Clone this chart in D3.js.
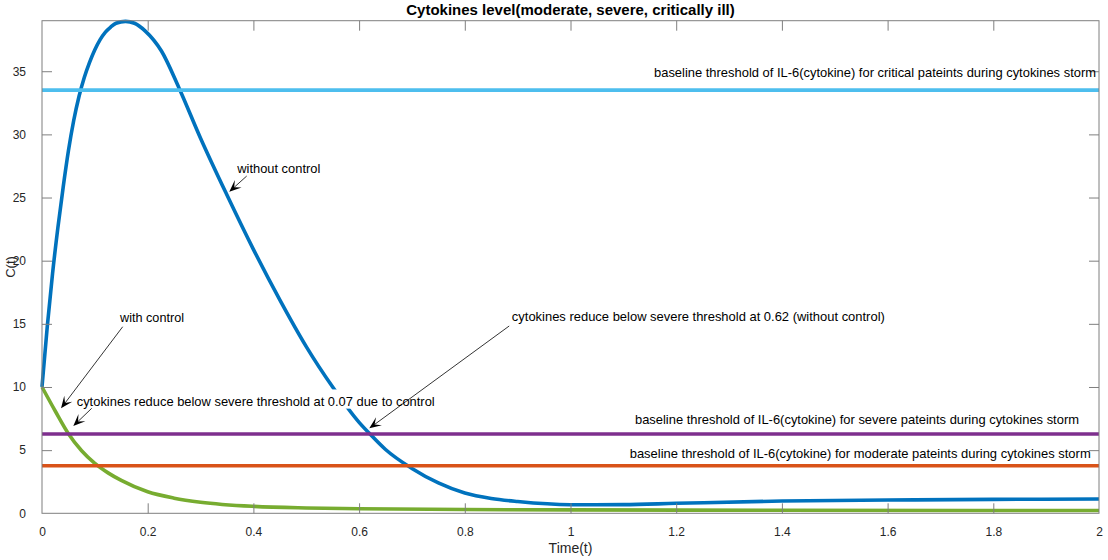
<!DOCTYPE html>
<html>
<head>
<meta charset="utf-8">
<script src="https://cdn.jsdelivr.net/npm/d3@7"></script>
<style>
  html, body { margin: 0; padding: 0; background: #fff; }
  svg { display: block; font-family: "Liberation Sans", Arial, sans-serif; }
</style>
</head>
<body>
<svg id="chart" width="1108" height="560"></svg>
<script>
// ---------- data ----------
const title = "Cytokines level(moderate, severe, critically ill)";
const xLabel = "Time(t)";
const yLabel = "C(t)";

const xTicks = [0, 0.2, 0.4, 0.6, 0.8, 1, 1.2, 1.4, 1.6, 1.8, 2];
const yTicks = [0, 5, 10, 15, 20, 25, 30, 35];

// without control (blue)
const tWithout = [0, 0.01, 0.02, 0.03, 0.04, 0.05, 0.06, 0.07, 0.08, 0.09, 0.10, 0.11, 0.12, 0.13, 0.14, 0.158, 0.175, 0.195, 0.226, 0.259, 0.30, 0.35, 0.40, 0.45, 0.50, 0.55, 0.60, 0.62, 0.65, 0.70, 0.75, 0.80, 0.85, 0.90, 1.0, 1.1, 1.2, 1.4, 1.6, 1.8, 2.0];
const cWithout = [10, 14.8, 19.0, 22.6, 25.8, 28.7, 31.1, 33.0, 34.5, 35.7, 36.7, 37.5, 38.1, 38.5, 38.8, 38.95, 38.8, 38.2, 36.6, 33.7, 29.7, 25.2, 20.9, 16.9, 13.2, 10.0, 7.2, 6.3, 5.05, 3.55, 2.4, 1.6, 1.17, 0.93, 0.68, 0.69, 0.79, 0.97, 1.05, 1.1, 1.13];

// with control (green)
const tWith = [0, 0.025, 0.05, 0.075, 0.1, 0.125, 0.15, 0.2, 0.25, 0.3, 0.4, 0.5, 0.6, 0.8, 1.0, 1.4, 2.0];
const cWith = [10, 8.1, 6.3, 4.95, 3.95, 3.2, 2.6, 1.7, 1.2, 0.88, 0.55, 0.42, 0.36, 0.3, 0.27, 0.24, 0.22];

// thresholds
const thresholdNames = ["critical", "severe", "moderate"];
const thresholdValues = [33.5, 6.28, 3.77];
const thresholdLabels = [
  "baseline threshold of IL-6(cytokine) for critical pateints during cytokines storm",
  "baseline threshold of IL-6(cytokine) for severe pateints during cytokines storm",
  "baseline threshold of IL-6(cytokine) for moderate pateints during cytokines storm"
];

// annotation texts
const annoTexts = [
  "without control",
  "with control",
  "cytokines reduce below severe threshold at 0.07 due to control",
  "cytokines reduce below severe threshold at 0.62 (without control)"
];

// ---------- layout / style ----------
const plot = { left: 42, right: 1099, top: 20.7, bottom: 513.3 };
const colors = {
  without: "#0072BD", with: "#77AC30",
  critical: "#4DBEEE", severe: "#7E2F8E", moderate: "#D95319"
};
const axisColor = "#7f7f7f";
const tickTextColor = "#262626";
const font = "'Liberation Sans', Arial, sans-serif";

// annotation placement (data coordinates) and text widths (px)
const annoPlace = [
  { tx: 0.3695, ty: 26.97, w: 83, from: [0.3873, 26.7], to: [0.3544, 25.46], box: false },
  { tx: 0.1476, ty: 15.17, w: 64, from: [0.1527, 14.77], to: [0.036, 8.31], box: false },
  { tx: 0.0657, ty: 8.50, w: 358, from: [0.094, 8.31], to: [0.0592, 6.91], box: true },
  { tx: 0.889, ty: 15.25, w: 373, from: [0.884, 14.83], to: [0.6193, 6.73], box: false }
];
const thrLabelPlace = [
  { tx: 1.158, ty: 34.52, w: 442, box: false },
  { tx: 1.122, ty: 7.05, w: 444, box: false },
  { tx: 1.112, ty: 4.40, w: 461, box: true }
];

const svg = d3.select("#chart");
const x = d3.scaleLinear().domain([0, 2]).range([plot.left, plot.right]);
const y = d3.scaleLinear().domain([0, 39]).range([plot.bottom, plot.top]);

const g = svg.append("g");

// curves
const line = d3.line().x(d => x(d[0])).y(d => y(d[1])).curve(d3.curveMonotoneX);
const blueData = tWithout.map((t, i) => [t, cWithout[i]]);
const greenData = tWith.map((t, i) => [t, cWith[i]]);

g.append("path").datum(blueData).attr("d", line)
  .attr("fill", "none").attr("stroke", colors.without).attr("stroke-width", 3.6)
  .attr("stroke-linejoin", "round");
g.append("path").datum(greenData).attr("d", line)
  .attr("fill", "none").attr("stroke", colors.with).attr("stroke-width", 3.6)
  .attr("stroke-linejoin", "round");

// thresholds
thresholdNames.forEach((name, i) => {
  g.append("line")
    .attr("x1", x(0)).attr("x2", x(2))
    .attr("y1", y(thresholdValues[i])).attr("y2", y(thresholdValues[i]))
    .attr("stroke", colors[name]).attr("stroke-width", 3.6);
});

// text boxes (white backgrounds of annotation text boxes)
const boxLayer = svg.append("g");

// axes box
const axG = svg.append("g");
axG.append("rect")
  .attr("x", plot.left).attr("y", plot.top)
  .attr("width", plot.right - plot.left).attr("height", plot.bottom - plot.top)
  .attr("fill", "none").attr("stroke", axisColor).attr("stroke-width", 1);

const tickLen = 10;
const xAxisB = d3.axisBottom(x).tickValues(xTicks).tickSizeInner(-tickLen).tickSizeOuter(0)
  .tickPadding(tickLen + 4).tickFormat(d3.format("~g"));
const xb = axG.append("g").attr("transform", `translate(0,${plot.bottom})`).call(xAxisB);
const xAxisT = d3.axisTop(x).tickValues(xTicks).tickSizeInner(-tickLen).tickSizeOuter(0).tickFormat("");
const xt = axG.append("g").attr("transform", `translate(0,${plot.top})`).call(xAxisT);
const yAxisL = d3.axisLeft(y).tickValues(yTicks).tickSizeInner(-tickLen).tickSizeOuter(0)
  .tickPadding(tickLen + 6).tickFormat(d3.format("~g"));
const yl = axG.append("g").attr("transform", `translate(${plot.left},0)`).call(yAxisL);
const yAxisR = d3.axisRight(y).tickValues(yTicks).tickSizeInner(-tickLen).tickSizeOuter(0).tickFormat("");
const yr = axG.append("g").attr("transform", `translate(${plot.right},0)`).call(yAxisR);

[xb, xt, yl, yr].forEach(a => {
  a.select(".domain").remove();
  a.selectAll(".tick line").attr("stroke", axisColor).attr("stroke-width", 1);
  a.selectAll(".tick text").attr("fill", tickTextColor)
    .style("font-family", font).style("font-size", "12px");
});
[xb, xt].forEach(a => a.selectAll(".tick").filter(d => d === 0 || d === 2).select("line").remove());
[yl, yr].forEach(a => a.selectAll(".tick").filter(d => d === 0).select("line").remove());

// title
svg.append("text").attr("x", (plot.left + plot.right) / 2).attr("y", 15)
  .attr("text-anchor", "middle").style("font-family", font)
  .style("font-size", "15px").style("font-weight", "bold").attr("fill", "#000")
  .text(title);

// axis labels
svg.append("text").attr("x", (plot.left + plot.right) / 2).attr("y", 553)
  .attr("text-anchor", "middle").style("font-family", font).style("font-size", "14px")
  .attr("fill", tickTextColor).text(xLabel);
svg.append("text")
  .attr("transform", `translate(15,${(plot.top + plot.bottom) / 2}) rotate(-90)`)
  .attr("text-anchor", "middle").style("font-family", font).style("font-size", "13px")
  .attr("fill", tickTextColor).text(yLabel);

function addText(txt, px, py, w, box) {
  if (box) {
    boxLayer.append("rect")
      .attr("x", px - 3).attr("y", py - 16.5).attr("width", w + 6).attr("height", 19.2)
      .attr("fill", "#fff");
  }
  svg.append("text").attr("x", px).attr("y", py)
    .style("font-family", font).style("font-size", "12.7px").attr("fill", "#000")
    .attr("textLength", w).attr("lengthAdjust", "spacingAndGlyphs")
    .text(txt);
}

// threshold labels
thresholdLabels.forEach((txt, i) => {
  const p = thrLabelPlace[i];
  addText(txt, x(p.tx), y(p.ty), p.w, p.box);
});

// annotations with arrows
function arrow(x1, y1, x2, y2) {
  const dx = x2 - x1, dy = y2 - y1, len = Math.hypot(dx, dy);
  const ux = dx / len, uy = dy / len, nx = -uy, ny = ux;
  const L = 12, Wd = 10, notch = 0.55 * L;
  const bx = x2 - L * ux, by = y2 - L * uy;
  const mx = x2 - notch * ux, my = y2 - notch * uy;
  svg.append("line").attr("x1", x1).attr("y1", y1).attr("x2", mx).attr("y2", my)
    .attr("stroke", "#000").attr("stroke-width", 0.8);
  svg.append("path")
    .attr("d", `M${x2},${y2} L${bx + nx * Wd / 2},${by + ny * Wd / 2} L${mx},${my} L${bx - nx * Wd / 2},${by - ny * Wd / 2} Z`)
    .attr("fill", "#000");
}
annoTexts.forEach((txt, i) => {
  const p = annoPlace[i];
  addText(txt, x(p.tx), y(p.ty), p.w, p.box);
  arrow(x(p.from[0]), y(p.from[1]), x(p.to[0]), y(p.to[1]));
});
</script>
</body>
</html>
